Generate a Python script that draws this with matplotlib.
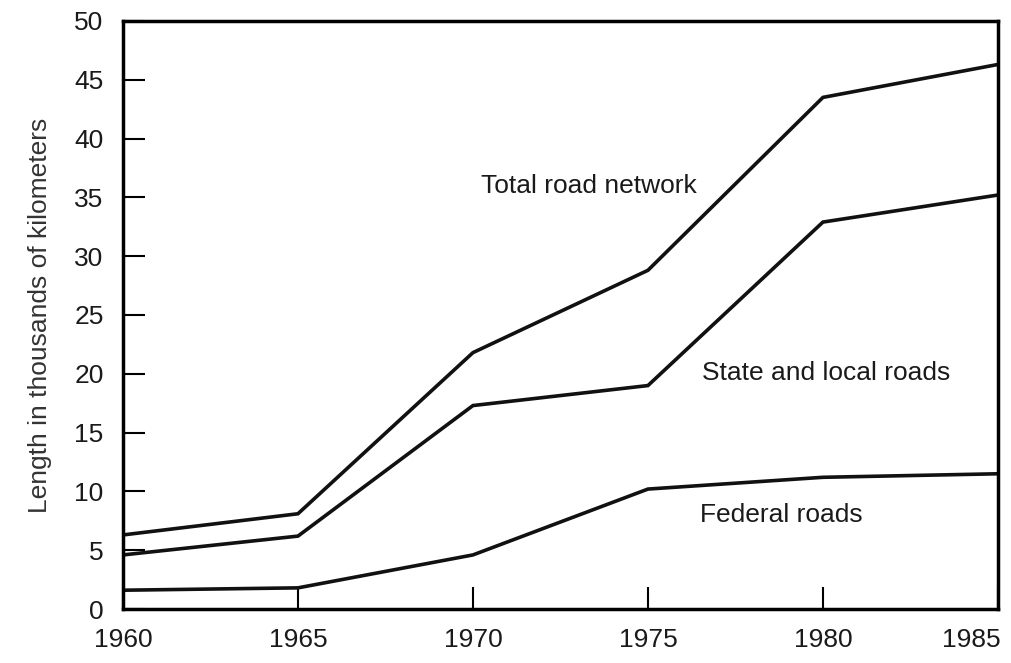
import matplotlib.pyplot as plt
import matplotlib.transforms as mtransforms

years = [1960, 1965, 1970, 1975, 1980, 1985]
total_road = [6.3, 8.1, 21.8, 28.8, 43.5, 46.3]
state_local = [4.6, 6.2, 17.3, 19.0, 32.9, 35.2]
federal = [1.6, 1.8, 4.6, 10.2, 11.2, 11.5]
yticks = [0, 5, 10, 15, 20, 25, 30, 35, 40, 45, 50]

plt.rcParams['font.family'] = ['Liberation Sans', 'DejaVu Sans']
fig = plt.figure(figsize=(10.12, 6.63), dpi=100)
ax = fig.add_axes([0.1215, 0.0814, 0.8646, 0.887])

for s in (total_road, state_local, federal):
    ax.plot(years, s, color='#111111', lw=2.6, solid_joinstyle='miter')

ax.text(1973.3, 36.0, 'Total road network', ha='center', va='center', fontsize=19, color='#1a1a1a')
ax.text(1980.1, 20.1, 'State and local roads', ha='center', va='center', fontsize=19, color='#1a1a1a')
ax.text(1978.8, 8.0, 'Federal roads', ha='center', va='center', fontsize=19, color='#1a1a1a')

ax.set_xlim(1960, 1985)
ax.set_ylim(0, 50)
ax.set_xticks(years)
ax.set_yticks(yticks)
ax.tick_params(direction='in', length=16, width=1.5, labelsize=19, labelcolor='#1a1a1a')
ax.tick_params(axis='y', pad=14)
ax.tick_params(axis='x', pad=14)
# last year label sits left of its tick in the original
last = ax.get_xticklabels()[-1]
last.set_transform(last.get_transform() + mtransforms.ScaledTranslation(-0.27, 0, fig.dpi_scale_trans))
for sp in ax.spines.values():
    sp.set_linewidth(2.5)
ax.set_ylabel('Length in thousands of kilometers', fontsize=19, color='#333333', labelpad=16)

plt.savefig('out.png', dpi=100)
